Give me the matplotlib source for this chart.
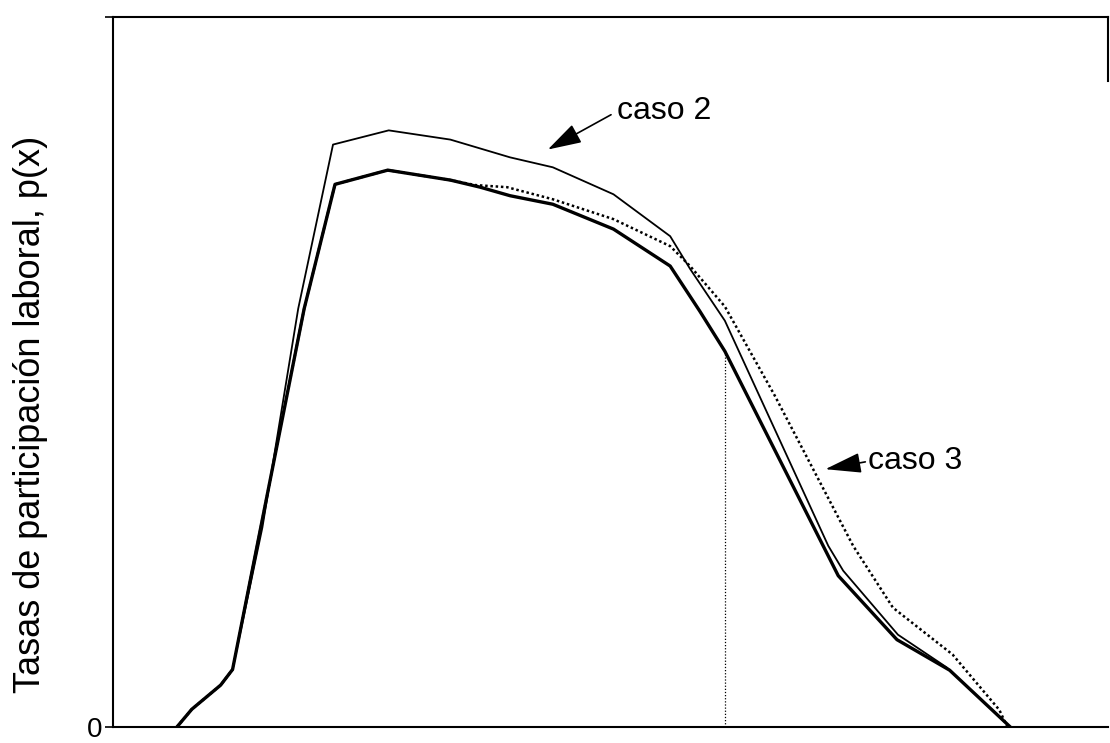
import matplotlib
matplotlib.use("Agg")
import matplotlib.pyplot as plt

plt.rcParams['font.family'] = ['Liberation Sans', 'DejaVu Sans']

# x: horizontal position (0-100 scale, no labels in the original), y: participation rate (0-1)
# caso 1 (bold line)
x_caso1 = [6.4, 7.9, 10.8, 12.0, 19.2, 22.3, 27.6, 33.9, 36.9, 39.9, 44.2, 50.3, 56.0, 59.0, 61.5, 72.9, 78.8, 84.1, 90.2]
y_caso1 = [0.0, 0.025, 0.059, 0.081, 0.589, 0.764, 0.784, 0.770, 0.760, 0.748, 0.736, 0.701, 0.649, 0.585, 0.529, 0.213, 0.123, 0.080, 0.0]

# caso 2 (thin line)
x_caso2 = [6.4, 7.9, 10.8, 12.0, 15.0, 18.6, 22.1, 27.7, 33.9, 39.9, 44.2, 50.3, 56.0, 58.0, 61.5, 71.9, 73.4, 78.9, 83.8, 90.2]
y_caso2 = [0.0, 0.025, 0.059, 0.081, 0.281, 0.589, 0.820, 0.840, 0.827, 0.802, 0.788, 0.750, 0.691, 0.645, 0.572, 0.255, 0.220, 0.130, 0.084, 0.0]

# caso 3 (dotted line)
x_caso3 = [6.4, 7.9, 10.8, 12.0, 19.2, 22.3, 27.6, 33.9, 36.4, 39.6, 44.2, 50.3, 56.0, 58.0, 61.5, 66.5, 74.4, 78.4, 84.4, 89.1, 89.9]
y_caso3 = [0.0, 0.025, 0.059, 0.081, 0.589, 0.764, 0.784, 0.770, 0.763, 0.760, 0.743, 0.715, 0.677, 0.649, 0.592, 0.467, 0.255, 0.168, 0.102, 0.024, 0.0]

# position of the vertical marker (on caso 1)
x_mark = 61.5
y_mark = 0.529

fig = plt.figure(figsize=(11.1, 7.43), dpi=100)
ax = fig.add_axes([0.102, 0.0215, 0.896, 0.956])

ax.plot(x_caso1, y_caso1, color='black', lw=2.4)
ax.plot(x_caso2, y_caso2, color='black', lw=1.3)
ax.plot(x_caso3, y_caso3, color='black', lw=1.8, linestyle=(0, (1, 1.1)))
ax.plot([x_mark, x_mark], [0, y_mark], color='black', lw=0.9, linestyle=(0, (1, 1.5)))

ax.annotate('caso 2', xy=(43.7, 0.813), xytext=(50.7, 0.867),
            fontsize=23, ha='left', va='center',
            arrowprops=dict(arrowstyle='-|>,head_length=1.5,head_width=0.45', mutation_scale=14,
                            lw=1.2, color='black', shrinkA=3, shrinkB=0, relpos=(0, 0.5)))
ax.annotate('caso 3', xy=(71.6, 0.363), xytext=(75.9, 0.374),
            fontsize=23, ha='left', va='center',
            arrowprops=dict(arrowstyle='-|>,head_length=1.6,head_width=0.45', mutation_scale=14,
                            lw=1.2, color='black', shrinkA=0, shrinkB=0, relpos=(0, 0.5)))

ax.set_xlim(0, 100)
ax.set_ylim(0, 1)
ax.set_xticks([])
ax.set_yticks([0, 1])
ax.set_yticklabels(['0', ''])
ax.tick_params(axis='y', direction='out', length=6, width=1.2, labelsize=20, pad=2)

for s in ['left', 'bottom', 'top', 'right']:
    ax.spines[s].set_linewidth(1.5)
ax.spines['right'].set_bounds(0.91, 1.0)

ax.set_ylabel('Tasas de participación laboral, p(x)', fontsize=26)
ax.yaxis.set_label_coords(-0.066, 0.44)

plt.savefig('out.png', dpi=100)
plt.close()
